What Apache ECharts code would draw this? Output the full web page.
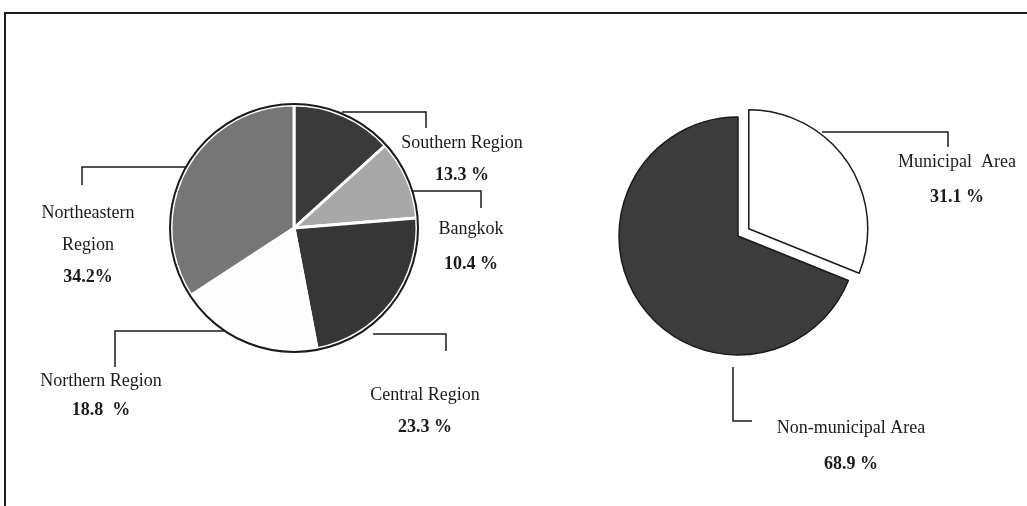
<!DOCTYPE html>
<html>
<head>
<meta charset="utf-8">
<script src="https://cdn.jsdelivr.net/npm/echarts@6/dist/echarts.min.js"></script>
<style>
html,body{margin:0;padding:0;background:#fff;}
#chart{width:1027px;height:506px;}
</style>
</head>
<body>
<div id="chart"></div>
<script>
// ---- data ----
const regionNames = ['Southern Region', 'Bangkok', 'Central Region', 'Northern Region', 'Northeastern Region'];
const regionLabelText = ['Southern Region', 'Bangkok', 'Central Region', 'Northern Region', 'Northeastern\nRegion'];
const regionValues = [13.3, 10.4, 23.3, 18.8, 34.2];
const regionUnits = [' %', ' %', ' %', '  %', '%'];
const areaNames = ['Municipal Area', 'Non-municipal Area'];
const areaLabelText = ['Municipal  Area', 'Non-municipal Area'];
const areaValues = [31.1, 68.9];
const areaUnits = [' %', ' %'];
const areaExploded = [true, false];

// ---- styling / layout ----
const regionColors = ['#3a3a3a', '#a8a8a8', '#363636', '#fdfdfd', '#767676'];
const areaColors = ['#ffffff', '#3c3c3c'];
const LEFT_C = [294, 228], LEFT_R = 123;
const RIGHT_C = [738, 236], RIGHT_R = 119;
const EXPLODE = 13;
const FONT = '"Liberation Serif", "DejaVu Serif", serif';

// label centers, line heights and leader-line points per slice
const leftLayout = [
  {x: 462, y: 159, lh: 32, pts: [[342, 112], [426, 112], [426, 128]]},
  {x: 471, y: 247, lh: 35, pts: [[412, 191], [481, 191], [481, 208]]},
  {x: 425, y: 411, lh: 32, pts: [[373, 334], [446, 334], [446, 351]]},
  {x: 101, y: 396, lh: 29, pts: [[224, 331], [115, 331], [115, 367]]},
  {x: 88, y: 245, lh: 32, pts: [[190, 167], [82, 167], [82, 185]]}
];
const rightLayout = [
  {x: 957, y: 180, lh: 35, pts: [[822, 132], [948, 132], [948, 147]]},
  {x: 851, y: 446, lh: 36, pts: [[733, 367], [733, 421], [752, 421]]}
];

function fmt(textArr, units) {
  return function (p) {
    const lines = textArr[p.dataIndex].split('\n').map(s => '{n|' + s + '}');
    lines.push('{v|' + p.value + units[p.dataIndex] + '}');
    return lines.join('\n');
  };
}
function rich(lh) {
  return {
    n: {fontFamily: FONT, fontSize: 18, color: '#1a1a1a', lineHeight: lh, align: 'center'},
    v: {fontFamily: FONT, fontSize: 18, fontWeight: 'bold', color: '#1a1a1a', lineHeight: lh, align: 'center'}
  };
}
const HIDDEN = {
  itemStyle: {color: 'rgba(0,0,0,0)', borderWidth: 0},
  label: {show: false},
  labelLine: {show: false}
};

const leftData = regionNames.map((n, i) => ({
  name: n, value: regionValues[i],
  itemStyle: {color: regionColors[i]},
  label: {rich: rich(leftLayout[i].lh)}
}));
// right pie drawn as two layers: the still part and the exploded part
function rightData(explodedLayer) {
  return areaNames.map((n, i) => {
    const item = {name: n, value: areaValues[i]};
    if (areaExploded[i] === explodedLayer) {
      item.itemStyle = {color: areaColors[i]};
      item.label = {rich: rich(rightLayout[i].lh)};
    } else {
      Object.assign(item, HIDDEN);
    }
    return item;
  });
}

// shift of an exploded slice along its mid-angle
function explodeShift(values, flags) {
  const total = values.reduce((a, b) => a + b, 0);
  let before = 0, idx = flags.indexOf(true);
  for (let k = 0; k < idx; k++) before += values[k];
  const a = (before + values[idx] / 2) / total * 2 * Math.PI;
  return [EXPLODE * Math.sin(a), -EXPLODE * Math.cos(a)];
}
const shift = explodeShift(areaValues, areaExploded);
const RIGHT_C2 = [RIGHT_C[0] + shift[0], RIGHT_C[1] + shift[1]];

function layoutFn(layout) {
  return function (params) {
    const L = layout[params.dataIndex];
    return {x: L.x, y: L.y, align: 'center', verticalAlign: 'middle', labelLinePoints: L.pts};
  };
}

const baseLabel = (texts, units) => ({
  show: true, position: 'outside', width: 240, overflow: 'none',
  formatter: fmt(texts, units), align: 'center'
});
const baseLine = {show: true, length: 10, length2: 10, lineStyle: {color: '#1a1a1a', width: 1.5}};

const chart = echarts.init(document.getElementById('chart'), null, {renderer: 'canvas'});
chart.setOption({
  animation: false,
  backgroundColor: '#ffffff',
  graphic: [
    {type: 'rect', shape: {x: 5, y: 13, width: 1040, height: 520}, style: {fill: 'none', stroke: '#1e1e1e', lineWidth: 2}, z: 0},
    {type: 'circle', shape: {cx: LEFT_C[0], cy: LEFT_C[1], r: LEFT_R + 1}, style: {fill: 'none', stroke: '#1a1a1a', lineWidth: 2}, z: 100}
  ],
  series: [
    {
      type: 'pie', center: LEFT_C, radius: LEFT_R, startAngle: 90, clockwise: true,
      avoidLabelOverlap: false, silent: true, emphasis: {disabled: true},
      itemStyle: {borderColor: '#ffffff', borderWidth: 3},
      label: baseLabel(regionLabelText, regionUnits),
      labelLine: baseLine,
      labelLayout: layoutFn(leftLayout),
      data: leftData
    },
    {
      type: 'pie', center: RIGHT_C, radius: RIGHT_R, startAngle: 90, clockwise: true,
      avoidLabelOverlap: false, silent: true, emphasis: {disabled: true},
      itemStyle: {borderColor: '#1a1a1a', borderWidth: 1.5},
      label: baseLabel(areaLabelText, areaUnits),
      labelLine: baseLine,
      labelLayout: layoutFn(rightLayout),
      data: rightData(false)
    },
    {
      type: 'pie', center: RIGHT_C2, radius: RIGHT_R, startAngle: 90, clockwise: true,
      avoidLabelOverlap: false, silent: true, emphasis: {disabled: true},
      itemStyle: {borderColor: '#1a1a1a', borderWidth: 1.5},
      label: baseLabel(areaLabelText, areaUnits),
      labelLine: baseLine,
      labelLayout: layoutFn(rightLayout),
      data: rightData(true)
    }
  ]
});
</script>
</body>
</html>
